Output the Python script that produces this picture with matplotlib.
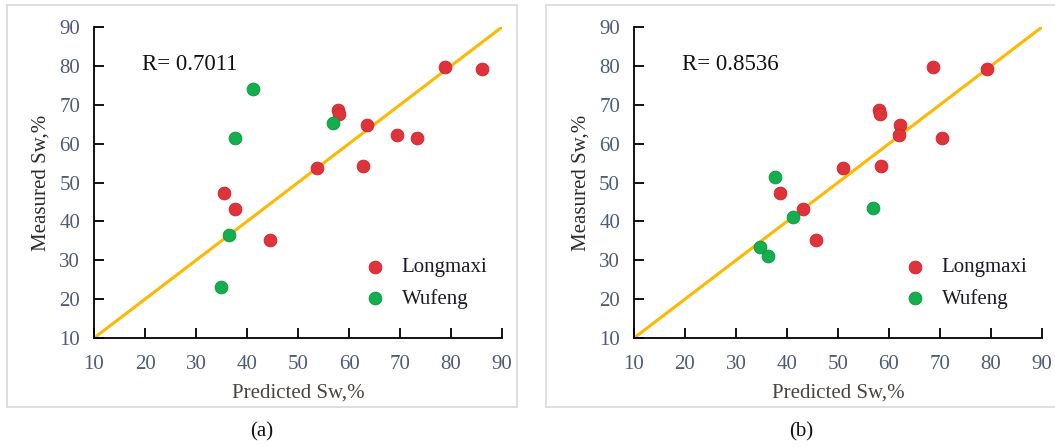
import matplotlib.pyplot as plt
from matplotlib.patches import Rectangle

# Predicted / measured water saturation, Sw %
long_pred_a = [78.8, 86.0, 57.8, 58.1, 63.6, 69.4, 73.4, 53.7, 62.8, 35.4, 37.6, 44.5]
long_pred_b = [68.7, 79.2, 58.1, 58.3, 62.2, 62.0, 70.4, 50.9, 58.5, 38.6, 43.1, 45.7]
long_meas = [79.7, 79.1, 68.7, 67.7, 64.7, 62.2, 61.5, 53.8, 54.3, 47.2, 43.3, 35.2]

wuf_pred_a = [41.2, 37.6, 56.9, 36.4, 34.8]
wuf_meas_a = [74.0, 61.4, 65.2, 36.5, 23.1]
wuf_pred_b = [37.6, 41.1, 56.9, 34.7, 36.3]
wuf_meas_b = [51.5, 41.1, 43.5, 33.5, 31.1]

r_values = ['0.7011', '0.8536']
panel_tags = ['(a)', '(b)']
ticks = [10, 20, 30, 40, 50, 60, 70, 80, 90]

plt.rcParams['font.family'] = ['Liberation Serif', 'DejaVu Serif']

fig = plt.figure(figsize=(10.55, 4.47), dpi=100)

panels = [
    (long_pred_a, long_meas, wuf_pred_a, wuf_meas_a),
    (long_pred_b, long_meas, wuf_pred_b, wuf_meas_b),
]
ax_left = [0.0891, 0.6009]
frame_left = [0.0066, 0.5175]
tag_x = [0.248, 0.759]

for i, (lx, ly, wx, wy) in enumerate(panels):
    # light grey frame around each panel
    fig.patches.append(Rectangle((frame_left[i], 0.0895), 0.4834, 0.899,
                                 transform=fig.transFigure, fill=False,
                                 edgecolor='#d9d9d9', linewidth=1.2))
    ax = fig.add_axes([ax_left[i], 0.2438, 0.3868, 0.6958])
    ax.plot([10, 90], [10, 90], color='#FFB700', linewidth=2.2, zorder=1)
    ax.scatter(lx, ly, s=85, color='#E0323A', edgecolors='#C62830',
               linewidths=0.6, label='Longmaxi', zorder=3)
    ax.scatter(wx, wy, s=85, color='#13AE4E', edgecolors='#0E9442',
               linewidths=0.6, label='Wufeng', zorder=3)
    ax.set_xlim(10, 90)
    ax.set_ylim(10, 90)
    ax.set_xticks(ticks)
    ax.set_yticks(ticks)
    ax.spines['top'].set_visible(False)
    ax.spines['right'].set_visible(False)
    ax.spines['left'].set_linewidth(1.3)
    ax.spines['bottom'].set_linewidth(1.3)
    ax.tick_params(direction='in', length=7, width=1.3, labelsize=15,
                   labelcolor='#4e5a78')
    ax.tick_params(axis='x', pad=12)
    ax.tick_params(axis='y', pad=10)
    ax.set_xlabel('Predicted Sw,%', fontsize=15, color='#4a4440', labelpad=7)
    ax.set_ylabel('Measured Sw,%', fontsize=15, color='#2b2b2b', labelpad=6)
    ax.text(0.118, 0.862, 'R= ' + r_values[i], transform=ax.transAxes,
            fontsize=16.5, color='#111111')
    leg = ax.legend(loc='lower right', bbox_to_anchor=(1.0, 0.047), frameon=False,
                    fontsize=15, handletextpad=0.3, labelspacing=0.55,
                    scatterpoints=1, borderaxespad=0.3)
    for t in leg.get_texts():
        t.set_color('#1a1a2a')
    fig.text(tag_x[i], 0.033, panel_tags[i], fontsize=15, ha='center',
             va='center', color='#111111')

fig.savefig('out.png', dpi=100)
